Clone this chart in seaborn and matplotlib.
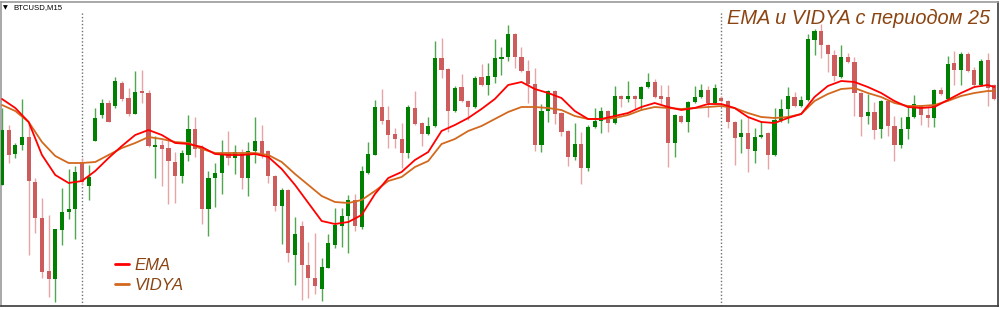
import numpy as np
import pandas as pd
import matplotlib
matplotlib.use("Agg")
import matplotlib.pyplot as plt
import seaborn as sns

# ---------------- data (BTCUSD M15, price units) ----------------
opens = [135,190,166,175,183,138,102,49,41,90,
         108,111,158,134,179,205,217,214,237,222,
         206,229,227,173,175,172,158,144,165,191,
         173,111,142,147,167,162,167,142,169,179,
         169,144,114,130,65,94,55,42,31,52,
         75,94,104,120,93,147,165,213,200,186,
         181,167,212,197,186,194,262,251,209,233,
         219,213,243,235,243,261,263,286,263,249,
         236,175,209,229,207,189,163,176,152,193,
         199,209,197,224,221,224,221,233,238,224,
         223,177,204,198,218,223,230,217,222,219,
         198,183,187,169,183,187,165,200,211,223,
         214,220,280,289,275,265,243,263,258,227,
         204,208,191,219,194,175,191,203,214,205,
         202,230,221,257,250,266,250,235,260,235]
highs = [212,195,177,221,197,142,122,105,91,132,
         151,154,162,155,212,221,220,243,239,232,
         249,250,230,184,180,180,168,170,205,203,
         175,149,157,180,189,175,171,178,203,195,
         170,145,132,131,103,99,78,87,62,86,
         112,112,125,126,154,178,220,231,214,192,
         197,215,229,198,203,279,282,252,234,246,
         220,244,256,257,281,273,295,287,273,260,
         252,216,230,230,208,190,197,188,195,212,
         213,210,234,225,239,225,234,247,241,235,
         235,206,205,219,234,236,234,236,224,220,
         199,201,203,192,199,188,212,221,233,228,
         224,286,291,296,276,270,275,267,263,228,
         226,218,220,220,204,203,215,225,215,214,
         231,233,264,269,268,268,253,261,267,236]
lows = [135,157,162,170,65,87,42,23,18,75,
        101,81,135,120,179,202,198,212,219,204,
        206,217,173,142,134,116,117,137,159,163,
        96,84,113,126,155,146,131,124,157,162,
        137,109,76,58,35,20,22,26,19,52,
        72,73,67,89,91,146,165,196,172,172,
        152,162,195,174,185,193,242,188,208,218,
        200,212,234,225,237,245,259,252,248,217,
        169,168,198,196,184,154,160,136,149,192,
        187,188,196,213,218,211,210,232,222,216,
        153,163,197,188,217,222,203,216,218,192,
        155,167,148,157,182,151,164,198,197,213,
        213,219,265,262,248,239,242,257,204,184,
        196,181,182,184,159,172,181,202,195,193,
        193,225,220,235,235,248,234,234,214,220]
closes = [190,165,175,183,139,102,48,41,91,108,
          111,148,138,143,202,217,198,239,221,206,
          228,227,174,175,171,159,144,167,191,171,
          111,142,147,166,162,168,142,169,179,165,
          144,114,130,67,86,55,42,34,53,77,
          95,104,120,94,149,166,213,199,185,181,
          167,213,196,186,194,262,250,209,232,219,
          213,242,235,244,262,263,286,263,249,236,
          175,209,229,206,188,163,176,152,193,199,
          209,197,224,221,224,221,233,238,223,221,
          177,205,198,218,223,230,217,232,219,198,
          182,187,171,183,185,165,200,211,224,214,
          220,281,289,275,266,244,263,258,227,203,
          208,190,219,194,175,191,203,216,205,202,
          230,226,256,250,266,249,235,259,232,221]

# indicator values, read every 2nd bar plus the last bar
ema_vals = [221,212,198,165,145,137,139,149,162,174,185,190,185,177,176,173,
            166,165,165,166,163,151,135,117,99,96,98,105,126,142,148,160,168,
            189,195,202,211,221,235,238,231,227,222,209,201,201,204,207,213,
            217,213,210,212,216,216,212,203,198,197,202,206,223,234,239,238,
            233,227,219,213,212,213,220,227,233,235,233]
vidya_vals = [215,209,198,178,164,157,157,158,165,172,177,183,181,178,177,171,
              167,167,167,167,165,158,146,135,124,118,117,120,129,139,143,153,
              159,176,181,189,194,201,208,213,213,212,210,204,201,201,202,205,
              210,213,212,211,212,213,214,212,207,203,202,203,206,219,226,231,
              232,227,223,217,214,214,215,219,224,227,229,229]

day_breaks = [12, 108]
symbol_label = "BTCUSD,M15"
title_text = "EMA и VIDYA с периодом 25"
series_names = ["EMA", "VIDYA"]

# ---------------- style ----------------
sns.set_theme(style="white")
plt.rcParams["font.family"] = ["Liberation Sans", "DejaVu Sans"]

W, H = 1000, 310
fig = plt.figure(figsize=(W / 100, H / 100), dpi=100)
fig.patch.set_facecolor("white")
ax = fig.add_axes([1 / W, 4 / H, 997 / W, 304 / H])
ax.set_facecolor("white")

o = np.array(opens, float)
h = np.array(highs, float)
l = np.array(lows, float)
c = np.array(closes, float)
x = np.arange(len(o))
up = c >= o

GREEN_BODY, GREEN_WICK = "#008000", "#4FA84F"
RED_BODY, RED_WICK = "#CD5C5C", "#E8A4A4"

wick_colors = np.where(up, GREEN_WICK, RED_WICK)
body_colors = np.where(up, GREEN_BODY, RED_BODY)

ax.vlines(x, l, h, colors=wick_colors, linewidth=1.0, zorder=2)
body_h = np.maximum(np.abs(c - o), 1.2)
body_b = np.minimum(o, c)
ax.bar(x, body_h, bottom=body_b, width=0.62, color=body_colors,
       linewidth=0, zorder=3)

# period separators
for b in day_breaks:
    ax.axvline(b, ymin=0.0, ymax=0.97, color="#707070", linestyle=(0, (1, 1.5)),
               linewidth=1.0, zorder=1)

# indicators
idx = np.r_[np.arange(0, len(o) - 1, 2), len(o) - 1][:len(ema_vals)]
df = pd.DataFrame({
    "bar": np.concatenate([idx, idx]),
    "value": np.concatenate([ema_vals, vidya_vals]),
    "series": [series_names[0]] * len(idx) + [series_names[1]] * len(idx),
})
sns.lineplot(data=df, x="bar", y="value", hue="series", estimator=None,
             palette={"EMA": "#FF0000", "VIDYA": "#D2691E"},
             hue_order=["VIDYA", "EMA"], linewidth=1.3, ax=ax, zorder=4)

ax.set_xlim(-0.15, 149.55)
ax.set_ylim(14, 318)
ax.set_xticks([])
ax.set_yticks([])
ax.set_xlabel("")
ax.set_ylabel("")
for name, sp in ax.spines.items():
    sp.set_visible(True)
    sp.set_linewidth(1.2)
    sp.set_color("#3a3a3a" if name in ("right", "bottom") else "#9a9a9a")

# legend
handles, labels = ax.get_legend_handles_labels()
order = [labels.index(n) for n in series_names]
leg = ax.legend([handles[i] for i in order], [labels[i] for i in order],
                loc="upper left", bbox_to_anchor=(115 / W, 1 - 258 / H),
                bbox_transform=fig.transFigure, frameon=False,
                handlelength=0.85, handletextpad=0.3, labelspacing=0.3,
                prop={"style": "italic", "size": 12}, labelcolor="#8B4513",
                borderaxespad=0, borderpad=0)
for line in leg.get_lines():
    line.set_linewidth(2.0)

# texts
fig.text(990 / W, 1 - 24 / H, title_text, ha="right", va="baseline",
         fontsize=14.4, style="italic", color="#8B4513")
fig.text(3 / W, 1 - 7.5 / H, "▼", ha="left", va="center", fontsize=4.5,
         color="black", family="DejaVu Sans")
fig.text(13 / W, 1 - 7.5 / H, symbol_label, ha="left", va="center",
         fontsize=5.6, color="black")

fig.savefig("out.png", dpi=100, facecolor="white")
